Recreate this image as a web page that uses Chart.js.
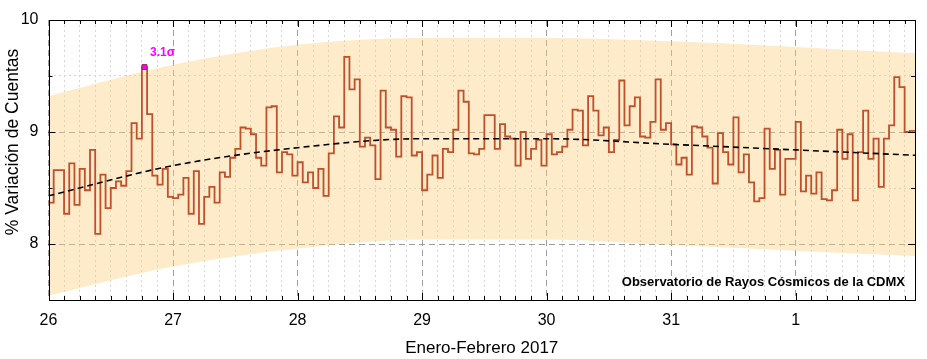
<!DOCTYPE html>
<html lang="es">
<head>
    <meta charset="UTF-8">
    <title>Variación de Cuentas</title>
    <script src="https://cdn.jsdelivr.net/npm/chart.js"></script>
    <style>
        html, body { margin: 0; padding: 0; background: #fff; }
        #caja { width: 927px; height: 359px; position: relative; }
    </style>
</head>
<body>
    <div id="caja"><canvas id="grafico"></canvas></div>

    <script>
        // etiquetas de los dias (cada 24 h)
        const diasEtiquetas = ['26', '27', '28', '29', '30', '31', '1'];

        // % variacion de cuentas, valores horarios desde el 26 a las 00h
        const cuentas = [
            8.37, 8.66, 8.66, 8.27, 8.72, 8.35, 8.67, 8.48, 8.84, 8.09, 8.62, 8.32,
            8.50, 8.56, 8.52, 8.65, 9.08, 8.94, 9.58, 9.16, 8.61, 8.53, 8.67, 8.42,
            8.41, 8.44, 8.59, 8.27, 8.65, 8.18, 8.42, 8.51, 8.37, 8.64, 8.60, 8.77,
            8.85, 9.04, 9.03, 8.98, 8.77, 8.70, 9.22, 9.23, 8.64, 8.82, 8.80, 8.61,
            8.73, 8.55, 8.64, 8.50, 8.67, 8.43, 8.81, 9.14, 9.04, 9.67, 9.38, 9.47,
            8.87, 8.95, 8.88, 8.58, 9.37, 9.04, 9.02, 8.78, 9.32, 9.31, 8.79, 8.82,
            8.48, 8.62, 8.79, 8.59, 8.85, 8.82, 9.02, 9.37, 9.27, 8.81, 8.80, 8.85,
            9.15, 9.15, 8.85, 9.07, 8.96, 8.94, 8.70, 9.00, 8.76, 8.85, 8.93, 8.70,
            8.98, 8.80, 8.82, 8.87, 9.02, 9.20, 9.19, 8.88, 9.32, 9.19, 8.97, 9.04,
            8.82, 8.93, 9.46, 9.06, 9.23, 9.31, 8.96, 8.95, 9.09, 9.47, 9.02, 9.08,
            8.89, 8.71, 8.77, 8.62, 9.05, 9.04, 8.96, 8.86, 8.54, 8.99, 8.82, 8.71,
            9.13, 8.64, 8.80, 8.55, 8.38, 8.41, 9.03, 8.67, 8.84, 8.44, 8.76, 8.76,
            9.09, 8.47, 8.61, 8.45, 8.64, 8.40, 8.39, 8.48, 9.02, 8.76, 8.98, 8.39,
            8.82, 9.19, 8.76, 8.94, 8.51, 8.94, 9.06, 9.49, 9.40, 9.00, 9.01
        ];

        // curva de ajuste y banda, leidas una vez por dia
        const ajusteDias = [0, 1, 2, 3, 4, 5, 6, 7];
        const ajuste = [8.43, 8.70, 8.86, 8.94, 8.94, 8.89, 8.84, 8.79];
        const bandaSup = [9.32, 9.60, 9.78, 9.84, 9.84, 9.81, 9.76, 9.70];
        const bandaInf = [7.54, 7.80, 7.96, 8.04, 8.04, 7.99, 7.94, 7.89];

        // evento marcado
        const horaSigma = 18;
        const textoSigma = '3.1\u03c3';
        const textoObs = 'Observatorio de Rayos Cósmicos de la CDMX';
        const horaMax = 167;

        Chart.defaults.font.family = "'Liberation Sans', Arial, sans-serif";
        Chart.defaults.color = '#000';

        const puntos = cuentas.map((v, i) => ({ x: i, y: v }));
        puntos.push({ x: cuentas.length, y: cuentas[cuentas.length - 1] });

        const esMayorX = c => c.tick && c.tick.value % 24 === 0;
        const esMayorY = c => c.tick && Number.isInteger(c.tick.value);

        const marco = {
            id: 'marco',
            afterDatasetsDraw(chart) {
                const ctx = chart.ctx;
                const a = chart.chartArea;
                const xs = chart.scales.x;
                const ys = chart.scales.y;
                ctx.save();
                ctx.strokeStyle = '#000';
                ctx.lineWidth = 1;
                ctx.beginPath();
                for (let h = 3; h < horaMax; h += 3) {
                    const px = Math.round(xs.getPixelForValue(h)) + 0.5;
                    const l = h % 24 === 0 ? 7 : 4;
                    ctx.moveTo(px, a.bottom); ctx.lineTo(px, a.bottom - l);
                    ctx.moveTo(px, a.top); ctx.lineTo(px, a.top + l);
                }
                for (let v = 8; v < 10; v += 0.5) {
                    const py = Math.round(ys.getPixelForValue(v)) + 0.5;
                    const l = Number.isInteger(v) ? 7 : 4;
                    ctx.moveTo(a.left, py); ctx.lineTo(a.left + l, py);
                    ctx.moveTo(a.right, py); ctx.lineTo(a.right - l, py);
                }
                ctx.stroke();
                ctx.strokeRect(Math.round(a.left) + 0.5, Math.round(a.top) + 0.5,
                    Math.round(a.right - a.left) - 1, Math.round(a.bottom - a.top));

                // etiqueta del evento
                const sx = xs.getPixelForValue(horaSigma + 0.5);
                const sy = ys.getPixelForValue(cuentas[horaSigma]);
                ctx.fillStyle = '#ff00ff';
                ctx.font = "bold 12px 'Liberation Sans', Arial, sans-serif";
                ctx.textAlign = 'center';
                ctx.textBaseline = 'middle';
                ctx.fillText(textoSigma, sx + 18, sy - 14);

                // leyenda del observatorio
                ctx.fillStyle = '#000';
                ctx.font = "bold 13px 'Liberation Sans', Arial, sans-serif";
                ctx.textAlign = 'right';
                ctx.fillText(textoObs, a.right - 10, a.bottom - 18);

                // titulo eje y
                ctx.translate(13, 142);
                ctx.rotate(-Math.PI / 2);
                ctx.textAlign = 'center';
                ctx.font = "17.5px 'Liberation Sans', Arial, sans-serif";
                ctx.fillText('% Variación de Cuentas', 0, 0);
                ctx.restore();
            }
        };

        new Chart(document.getElementById('grafico'), {
            type: 'line',
            data: {
                datasets: [
                    {
                        label: 'sigma',
                        data: [{ x: horaSigma + 0.5, y: cuentas[horaSigma] }],
                        order: 0,
                        showLine: false,
                        pointStyle: 'rect',
                        pointRadius: 3.5,
                        backgroundColor: '#ff00ff',
                        borderColor: '#9c2b5c',
                        borderWidth: 1
                    },
                    {
                        label: 'ajuste',
                        data: ajusteDias.map((d, i) => ({ x: d * 24, y: ajuste[i] })),
                        order: 1,
                        borderColor: '#000',
                        borderWidth: 1.6,
                        borderDash: [6, 4],
                        pointRadius: 0,
                        cubicInterpolationMode: 'monotone',
                        fill: false
                    },
                    {
                        label: 'cuentas',
                        data: puntos,
                        order: 2,
                        stepped: 'before',
                        borderColor: '#c0502a',
                        borderWidth: 1.8,
                        pointRadius: 0,
                        fill: false
                    },
                    {
                        label: 'sup',
                        data: ajusteDias.map((d, i) => ({ x: d * 24, y: bandaSup[i] })),
                        order: 3,
                        borderWidth: 0,
                        borderColor: 'transparent',
                        pointRadius: 0,
                        cubicInterpolationMode: 'monotone',
                        backgroundColor: 'rgba(250, 205, 120, 0.4)',
                        fill: '+1'
                    },
                    {
                        label: 'inf',
                        data: ajusteDias.map((d, i) => ({ x: d * 24, y: bandaInf[i] })),
                        order: 4,
                        borderWidth: 0,
                        borderColor: 'transparent',
                        pointRadius: 0,
                        cubicInterpolationMode: 'monotone',
                        fill: false
                    }
                ]
            },
            options: {
                responsive: true,
                maintainAspectRatio: false,
                animation: false,
                layout: { padding: { top: 20, right: 12, left: 0, bottom: 0 } },
                plugins: {
                    legend: { display: false },
                    tooltip: { enabled: false }
                },
                scales: {
                    x: {
                        type: 'linear',
                        min: 0,
                        max: horaMax,
                        ticks: {
                            stepSize: 3,
                            autoSkip: false,
                            maxRotation: 0,
                            includeBounds: false,
                            padding: 11,
                            font: { size: 16 },
                            callback: v => v % 24 === 0 ? diasEtiquetas[v / 24] : ''
                        },
                        grid: {
                            drawTicks: false,
                            color: c => esMayorX(c) ? '#9e9e9e' : '#d6d6d6'
                        },
                        border: {
                            display: false,
                            dash: c => esMayorX(c) ? [6, 4] : [2, 3]
                        },
                        title: {
                            display: true,
                            text: 'Enero-Febrero 2017',
                            font: { size: 17 },
                            padding: 0
                        },
                        afterFit: s => { s.height = 59; }
                    },
                    y: {
                        min: 7.5,
                        max: 10,
                        ticks: {
                            stepSize: 0.5,
                            padding: 10,
                            font: { size: 16 },
                            callback: v => Number.isInteger(v) ? String(v) : ''
                        },
                        grid: {
                            drawTicks: false,
                            color: c => esMayorY(c) ? '#9e9e9e' : '#d6d6d6'
                        },
                        border: {
                            display: false,
                            dash: c => esMayorY(c) ? [6, 4] : [2, 3]
                        },
                        afterFit: s => { s.width = 48.5; }
                    }
                }
            },
            plugins: [marco]
        });
    </script>
</body>
</html>
